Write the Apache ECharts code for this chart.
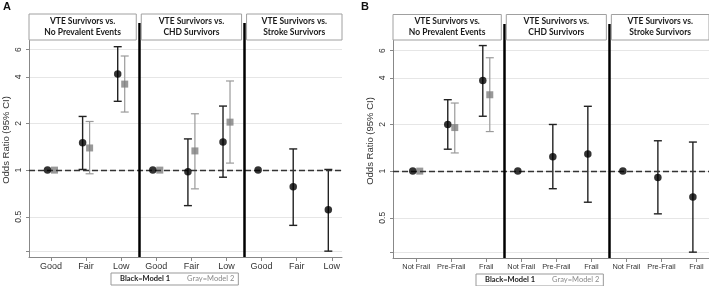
<!DOCTYPE html>
<html>
<head>
<meta charset="utf-8">
<script src="https://cdn.jsdelivr.net/npm/echarts@6/dist/echarts.min.js"></script>
<style>
  html, body { margin: 0; padding: 0; background: #fff; }
  #chart { width: 709px; height: 286px; }
</style>
</head>
<body>
<div id="chart"></div>
<script>
// categories per panel (3 comparisons x 3 groups)
const categoriesA = ['Good', 'Fair', 'Low', 'Good', 'Fair', 'Low', 'Good', 'Fair', 'Low'];
const categoriesB = ['Not Frail', 'Pre-Frail', 'Frail', 'Not Frail', 'Pre-Frail', 'Frail', 'Not Frail', 'Pre-Frail', 'Frail'];
const comparisons = [
  ['VTE Survivors vs.', 'No Prevalent Events'],
  ['VTE Survivors vs.', 'CHD Survivors'],
  ['VTE Survivors vs.', 'Stroke Survivors']
];
const yTickLabels = [0.5, 1, 2, 4, 6];
const yGridValues = [0.3, 0.5, 1, 2, 4, 6];

// Panel A (self-rated health)
const aModel1 = [1, 1.50, 4.17, 1, 0.975, 1.52, 1, 0.78, 0.554];
const aModel1Low = [null, 1.01, 2.78, null, 0.59, 0.90, null, 0.44, 0.30];
const aModel1High = [null, 2.22, 6.26, null, 1.59, 2.59, null, 1.37, 1.01];
const aModel2 = [1, 1.39, 3.59, 1, 1.33, 2.04, null, null, null];
const aModel2Low = [null, 0.947, 2.37, null, 0.757, 1.11, null, null, null];
const aModel2High = [null, 2.06, 5.45, null, 2.31, 3.76, null, null, null];

// Panel B (frailty)
const bModel1 = [1, 2.0, 3.85, 1, 1.24, 1.29, 1, 0.91, 0.68];
const bModel1Low = [null, 1.385, 2.26, null, 0.77, 0.63, null, 0.53, 0.30];
const bModel1High = [null, 2.89, 6.46, null, 2.0, 2.62, null, 1.57, 1.54];
const bModel2 = [1, 1.91, 3.11, null, null, null, null, null, null];
const bModel2Low = [null, 1.31, 1.80, null, null, null, null, null, null];
const bModel2High = [null, 2.75, 5.39, null, null, null, null, null, null];

const M1 = 'Black=Model 1';
const M2 = 'Gray=Model 2';
const L = Math.log2;
const yMin = L(0.275), yMax = L(8.9);
const groupSize = 3;
const separators = [1, 2].map(k => k * groupSize - 0.5);
const FONT = '"Liberation Sans", Arial, sans-serif';
const HFONT = 'Lato, "Open Sans", sans-serif';

const chart = echarts.init(document.getElementById('chart'));

function points(vals) {
  return vals.map((v, i) => v == null ? null : [i, L(v)]).filter(Boolean);
}
function ranges(lo, hi) {
  return lo.map((v, i) => v == null ? null : [i, L(v), L(hi[i])]).filter(Boolean);
}

function errSeries(name, idx, lo, hi, color, width, dx, extra) {
  return Object.assign({
    name, type: 'custom', xAxisIndex: idx, yAxisIndex: idx, silent: true, z: 3,
    data: ranges(lo, hi),
    encode: { x: 0, y: [1, 2] },
    renderItem(params, api) {
      const x = api.value(0);
      const a = api.coord([x, api.value(1)]);
      const b = api.coord([x, api.value(2)]);
      const cx = a[0] + dx, w = 4;
      const st = { stroke: color, lineWidth: width };
      return {
        type: 'group', children: [
          { type: 'line', shape: { x1: cx, y1: a[1], x2: cx, y2: b[1] }, style: st },
          { type: 'line', shape: { x1: cx - w, y1: a[1], x2: cx + w, y2: a[1] }, style: st },
          { type: 'line', shape: { x1: cx - w, y1: b[1], x2: cx + w, y2: b[1] }, style: st }
        ]
      };
    }
  }, extra || {});
}

function refLines() {
  return {
    silent: true, symbol: 'none', animation: false, label: { show: false },
    data: [
      { yAxis: 0, lineStyle: { type: [6, 3], color: '#333', width: 1.3 } },
      ...separators.map(s => ({ xAxis: s, lineStyle: { type: 'solid', color: '#000', width: 2.5 } }))
    ]
  };
}

function panelSeries(idx, m1, m1lo, m1hi, m2, m2lo, m2hi) {
  return [
    errSeries(M2, idx, m2lo, m2hi, '#9a9a9a', 1.2, 3.5),
    errSeries(M1, idx, m1lo, m1hi, '#222', 1.4, -3.5, { markLine: refLines(), z: 2 }),
    { name: M2, type: 'scatter', xAxisIndex: idx, yAxisIndex: idx, data: points(m2), symbol: 'rect',
      symbolSize: 7, symbolOffset: [3.5, 0], itemStyle: { color: '#7f7f7f' }, z: 4, silent: true },
    { name: M1, type: 'scatter', xAxisIndex: idx, yAxisIndex: idx, data: points(m1), symbol: 'circle',
      symbolSize: 7.5, symbolOffset: [-3.5, 0], itemStyle: { color: '#000' }, z: 5, silent: true }
  ];
}

function xAxis(idx, cats, min, max, fs) {
  const idxs = cats.map((c, i) => i);
  return {
    type: 'value', gridIndex: idx, min, max,
    axisLine: { show: true, onZero: false, lineStyle: { color: '#888', width: 1 } },
    axisTick: { show: true, customValues: idxs, length: 4, lineStyle: { color: '#888' } },
    axisLabel: { customValues: idxs, formatter: v => cats[Math.round(v)], fontSize: fs, color: '#333', margin: 5, fontFamily: FONT },
    splitLine: { show: false }
  };
}

function yAxis(idx) {
  return {
    type: 'value', gridIndex: idx, min: yMin, max: yMax,
    name: 'Odds Ratio (95% CI)', nameLocation: 'middle', nameGap: 18, nameRotate: 90,
    nameTextStyle: { fontSize: 9.5, color: '#333', fontFamily: FONT },
    axisLine: { show: true, onZero: false, lineStyle: { color: '#888', width: 1 } },
    axisTick: { show: true, customValues: yGridValues.map(L), length: 3, lineStyle: { color: '#888' } },
    axisLabel: {
      customValues: yTickLabels.map(L), rotate: 90, margin: 6, fontSize: 8.5, color: '#333', fontFamily: FONT,
      formatter: v => {
        const t = yTickLabels.find(t => Math.abs(L(t) - v) < 1e-6);
        return t == null ? '' : String(t);
      }
    },
    splitLine: { show: true, lineStyle: { color: '#e6e6e6', width: 1 } }
  };
}

function legendAt(left, top) {
  return {
    left, top, orient: 'horizontal', itemWidth: 0, itemHeight: 0, itemGap: 12,
    borderColor: '#999', borderWidth: 1, padding: [2, 4], selectedMode: false,
    data: [
      { name: M1, icon: 'rect', textStyle: { color: '#222', fontWeight: 'bold' } },
      { name: M2, icon: 'rect', textStyle: { color: '#8a8a8a' } }
    ],
    textStyle: { fontSize: 7.5, fontFamily: HFONT }
  };
}

chart.setOption({
  animation: false,
  grid: [
    { left: 29, top: 23, width: 313, height: 234 },
    { left: 393, top: 24, width: 316, height: 234 }
  ],
  xAxis: [xAxis(0, categoriesA, -0.627, 8.29, 9), xAxis(1, categoriesB, -0.664, 8.36, 7.4)],
  yAxis: [yAxis(0), yAxis(1)],
  legend: [legendAt(111, 273), legendAt(476, 274)],
  series: [
    ...panelSeries(0, aModel1, aModel1Low, aModel1High, aModel2, aModel2Low, aModel2High),
    ...panelSeries(1, bModel1, bModel1Low, bModel1High, bModel2, bModel2Low, bModel2High)
  ]
});

// header boxes over each comparison, placed from the axis scale
const graphics = [
  { type: 'text', left: 3, top: 1, style: { text: 'A', font: 'bold 11px ' + FONT, fill: '#111' } },
  { type: 'text', left: 361, top: 1, style: { text: 'B', font: 'bold 11px ' + FONT, fill: '#111' } }
];
[[0, -0.627, 8.29, 14], [1, -0.664, 8.36, 14.5]].forEach(([p, lo, hi, top]) => {
  const edges = [lo, ...separators, hi].map(v => chart.convertToPixel({ xAxisIndex: p }, v));
  comparisons.forEach((lines, k) => {
    const x1 = edges[k] + (k === 0 ? 0 : 2.5);
    const x2 = edges[k + 1] - (k === comparisons.length - 1 ? 0 : 2.5);
    graphics.push({
      type: 'rect', shape: { x: x1, y: top, width: x2 - x1, height: 40 - top }, z: 10,
      style: { fill: '#fff', stroke: '#a0a0a0', lineWidth: 1 }
    });
    graphics.push({
      type: 'text', x: (x1 + x2) / 2, y: (top + 40) / 2, z: 11,
      style: { text: lines.join('\n'), font: 'bold 8.5px ' + HFONT, fill: '#1a1a1a', align: 'center', verticalAlign: 'middle', lineHeight: 11 }
    });
  });
});
chart.setOption({ graphic: graphics });
</script>
</body>
</html>
